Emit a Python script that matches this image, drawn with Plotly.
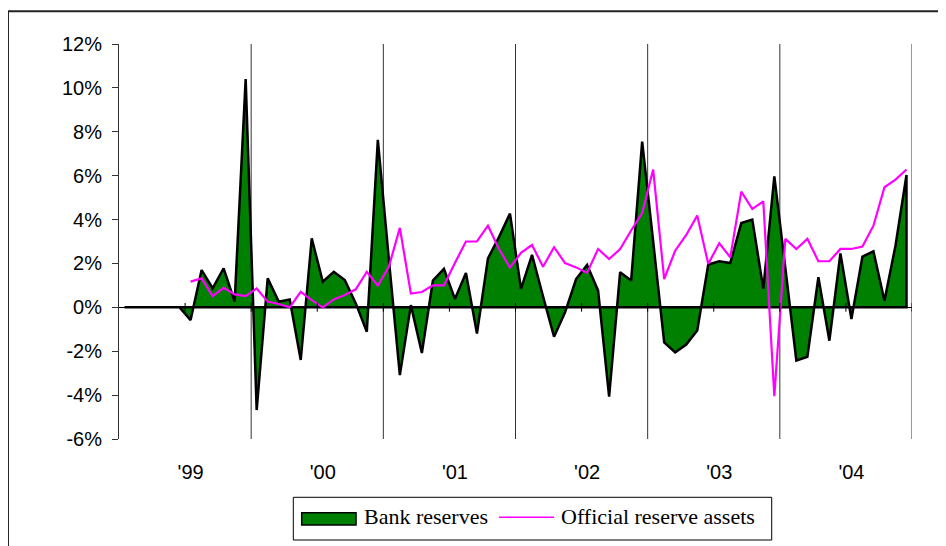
import plotly.graph_objects as go

# ---- data (monthly, Jan 1999 .. Dec 2004), percent ----
MONTHS = [f"{y}-{m:02d}" for y in range(1999, 2005) for m in range(1, 13)]

BANK_RESERVES = [
    0, 0, 0, 0, 0, 0,
    -0.58, 1.70, 0.87, 1.78, 0.26, 10.40,
    -4.68, 1.32, 0.26, 0.36, -2.40, 3.14, 1.17, 1.62, 1.24, 0.18, -1.11, 7.63,
    2.20, -3.09, 0.10, -2.08, 1.22, 1.75, 0.38, 1.57, -1.19, 2.23, 3.20, 4.27,
    0.84, 2.39, 0.50, -1.34, -0.23, 1.29, 1.93, 0.76, -4.07, 1.60, 1.22, 7.55,
    3.00, -1.60, -2.05, -1.70, -1.06, 1.95, 2.10, 2.02, 3.84, 4.00, 0.84, 5.97,
    1.80, -2.43, -2.25, 1.37, -1.52, 2.46, -0.53, 2.31, 2.55, 0.30, 2.81, 6.03,
]

OFFICIAL_RESERVES = [
    None, None, None, None, None, None,
    1.17, 1.32, 0.51, 0.89, 0.59, 0.51,
    0.86, 0.26, 0.15, 0.00, 0.71, 0.33, 0.00, 0.36, 0.56, 0.82, 1.62, 0.99,
    1.85, 3.62, 0.63, 0.70, 1.00, 1.00, 2.02, 3.00, 3.00, 3.72, 2.66, 1.81,
    2.48, 2.84, 1.85, 2.74, 2.02, 1.82, 1.57, 2.66, 2.20, 2.66, 3.50, 4.30,
    6.28, 1.29, 2.58, 3.30, 4.18, 1.98, 2.92, 2.28, 5.27, 4.48, 4.83, -4.05,
    3.12, 2.66, 3.12, 2.10, 2.10, 2.66, 2.66, 2.77, 3.72, 5.47, 5.82, 6.28,
]

SERIES_NAMES = ["Bank reserves", "Official reserve assets"]
YEAR_LABELS = ["'99", "'00", "'01", "'02", "'03", "'04"]
Y_TICKS = [-6, -4, -2, 0, 2, 4, 6, 8, 10, 12]
Y_LABELS = ["-6%", "-4%", "-2%", "0%", "2%", "4%", "6%", "8%", "10%", "12%"]

GREEN = "#008000"
PINK = "#FF00FF"

# ---- build ----
idx = list(range(len(MONTHS)))
n = len(idx)

# closed polygon: series forward, zero baseline back (Excel-style outlined area)
poly_x = idx + idx[::-1]
poly_y = BANK_RESERVES + [0] * n

fig = go.Figure()
fig.add_trace(go.Scatter(
    x=poly_x, y=poly_y, fill="toself", mode="lines",
    fillcolor=GREEN, line=dict(color="black", width=2.5),
    name=SERIES_NAMES[0], hoverinfo="skip", showlegend=False,
))
fig.add_trace(go.Scatter(
    x=idx, y=OFFICIAL_RESERVES, mode="lines",
    line=dict(color=PINK, width=2.2),
    name=SERIES_NAMES[1], showlegend=False,
))

shapes = []
# year separators (between December and January), drawn behind data
for j in range(1, len(YEAR_LABELS) + 1):
    xb = 12 * j - 0.5
    shapes.append(dict(type="line", xref="x", yref="y", x0=xb, x1=xb,
                       y0=Y_TICKS[0], y1=Y_TICKS[-1],
                       line=dict(color="#333333", width=1), layer="below"))
# half-year tick marks crossing the zero axis
for t in range(5, n + 1, 6):
    xb = t + 0.5
    shapes.append(dict(type="line", xref="x", yref="y", x0=xb, x1=xb,
                       y0=-0.2, y1=0.2, line=dict(color="black", width=1)))
# outer chart border
shapes.append(dict(type="rect", xref="paper", yref="paper",
                   x0=-0.14, x1=1.06, y0=-0.30, y1=1.083,
                   line=dict(color="#222222", width=2), fillcolor="rgba(0,0,0,0)"))

# ---- boxed legend at the bottom ----
shapes.append(dict(type="rect", xref="paper", yref="paper",
                   x0=0.2198, x1=0.8231, y0=-0.2557, y1=-0.1476,
                   line=dict(color="black", width=1), fillcolor="white"))
shapes.append(dict(type="rect", xref="paper", yref="paper",
                   x0=0.2304, x1=0.2989, y0=-0.2177, y1=-0.1866,
                   line=dict(color="black", width=1.5), fillcolor=GREEN))
shapes.append(dict(type="line", xref="paper", yref="paper",
                   x0=0.4792, x1=0.5486, y0=-0.1982, y1=-0.1982,
                   line=dict(color=PINK, width=1.5)))
legend_font = dict(family="Liberation Serif, Times New Roman, serif", size=22, color="black")
annotations = [
    dict(xref="paper", yref="paper", x=0.3063, y=-0.1955, xanchor="left", yanchor="middle",
         text=SERIES_NAMES[0], showarrow=False, font=legend_font),
    dict(xref="paper", yref="paper", x=0.5551, y=-0.1955, xanchor="left", yanchor="middle",
         text=SERIES_NAMES[1], showarrow=False, font=legend_font),
]

# the page offsets the figure by 8px (body margin), so margins are compensated
fig.update_layout(
    width=938, height=538,
    margin=dict(l=111, r=34, t=36, b=107),
    paper_bgcolor="white", plot_bgcolor="white",
    font=dict(family="Liberation Sans, Arial, sans-serif", size=20, color="black"),
    showlegend=False,
    shapes=shapes,
    annotations=annotations,
    xaxis=dict(
        range=[-0.5, n - 0.5], showgrid=False, zeroline=False, showline=False,
        tickmode="array", tickvals=[12 * j + 6 for j in range(len(YEAR_LABELS))],
        ticktext=YEAR_LABELS, ticks="", ticklabelstandoff=19,
        tickfont=dict(size=20),
    ),
    yaxis=dict(
        range=[Y_TICKS[0], Y_TICKS[-1]], showgrid=False,
        zeroline=True, zerolinecolor="black", zerolinewidth=1,
        showline=True, linecolor="#333333", linewidth=1,
        ticks="outside", ticklen=6, tickcolor="#333333",
        tickmode="array", tickvals=Y_TICKS, ticktext=Y_LABELS,
        ticklabelstandoff=6, tickfont=dict(size=20),
    ),
)

fig.write_html("out.html")
